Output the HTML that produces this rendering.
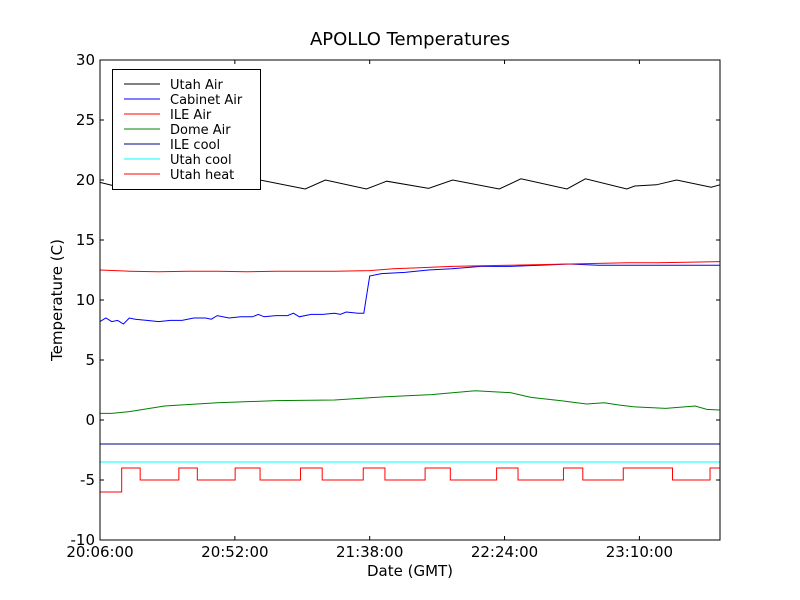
<!DOCTYPE html>
<html><head><meta charset="utf-8"><style>
body{margin:0;background:#fff;}
svg{display:block;font-family:"DejaVu Sans","Liberation Sans",sans-serif;}
</style></head><body>
<svg id="chart" width="800" height="600">
<rect width="800" height="600" fill="#fff"/>
<text x="410" y="45" font-size="18" text-anchor="middle">APOLLO Temperatures</text>
<text x="410" y="576" font-size="15" text-anchor="middle">Date (GMT)</text>
<text transform="translate(62,300) rotate(-90)" font-size="15" text-anchor="middle">Temperature (C)</text>
<g id="series"></g>
<g id="axes"></g>
<g id="legend"></g>
</svg>
<script>
const xTicks=[0,46,92,138,184];
const xTickLabels=["20:06:00","20:52:00","21:38:00","22:24:00","23:10:00"];
const yTicks=[-10,-5,0,5,10,15,20,25,30];
const utahAirT=[0,5,30,54.6,70.0,76.9,90.9,97.8,112.1,120.3,136.2,143.6,159.3,165.6,179.7,182.4,189.8,196.7,208.5,211.5];
const utahAirV=[19.8,19.5,19.3,20.0,19.25,20.0,19.25,19.9,19.3,20.0,19.25,20.1,19.25,20.1,19.25,19.5,19.6,20.0,19.4,19.6];
const cabT=[0,2,4,6,8,10,12,16,20,24,28,32,36,38,40,44,48,52,54,56,60,64,66,68,72,76,80,82,84,88,90,92,96,104,112,120,130,140,150,160,170,180,190,200,211.3];
const cabV=[8.2,8.5,8.2,8.3,8.0,8.5,8.4,8.3,8.2,8.3,8.3,8.5,8.5,8.4,8.7,8.5,8.6,8.6,8.8,8.6,8.7,8.7,8.9,8.6,8.8,8.8,8.9,8.8,9.0,8.9,8.9,12.0,12.2,12.3,12.5,12.6,12.8,12.8,12.9,13.0,12.9,12.9,12.9,12.9,12.9];
const ileAirT=[0,10,20,30,40,50,60,70,80,92,100,110,120,130,140,150,160,170,180,190,200,211.3];
const ileAirV=[12.5,12.4,12.35,12.4,12.4,12.35,12.4,12.4,12.4,12.45,12.6,12.7,12.8,12.85,12.9,12.95,13.0,13.05,13.1,13.1,13.15,13.2];
const domeT=[0,4,10,22,40,60,80,94,113,128,140,147,157,166,172,177,182,193,203,207,211.3];
const domeV=[0.55,0.55,0.7,1.17,1.44,1.61,1.67,1.89,2.11,2.44,2.28,1.89,1.61,1.33,1.44,1.25,1.1,0.97,1.17,0.89,0.83];
const ileCoolV=-2.0;
const utahCoolV=-3.5;
const heatT=[0,7.4,13.7,26.9,33.2,46.1,54.6,68.4,75.8,89.8,97.2,110.9,119.5,135.3,142.6,158.1,164.7,178.5,195.3,208.1,211.3];
const heatV=[-6,-4,-5,-4,-5,-4,-5,-4,-5,-4,-5,-4,-5,-4,-5,-4,-5,-4,-5,-4,-4];

const X0=100,X1=720,Y0=60,Y1=540,TMAX=211.5;
const sx=t=>X0+t/TMAX*(X1-X0);
const sy=v=>Y1-(v+10)/40*(Y1-Y0);
const NS="http://www.w3.org/2000/svg";
function mk(tag,attrs,parent){const e=document.createElementNS(NS,tag);for(const k in attrs)e.setAttribute(k,attrs[k]);parent.appendChild(e);return e;}
const S=document.getElementById('series');
function line(ts,vs,color,name,step){
  let d="";
  ts.forEach((t,i)=>{
    if(i===0){d+="M"+sx(t)+","+sy(vs[i]);}
    else if(step){d+="L"+sx(t)+","+sy(vs[i-1])+"L"+sx(t)+","+sy(vs[i]);}
    else d+="L"+sx(t)+","+sy(vs[i]);
  });
  const p=mk('path',{d:d,fill:"none",stroke:color,"stroke-width":1},S);
  
  
}
line(utahAirT,utahAirV,"#000","utah-air-line");
line(cabT,cabV,"#0000ff","cabinet-air-line");
line(ileAirT,ileAirV,"#ff0000","ile-air-line");
line(domeT,domeV,"#008000","dome-air-line");
line([0,TMAX],[ileCoolV,ileCoolV],"#000080","ile-cool-line");
line([0,TMAX],[utahCoolV,utahCoolV],"#00ffff","utah-cool-line");
line(heatT,heatV,"#ff0000","utah-heat-line",true);

const A=document.getElementById('axes');
mk('rect',{x:X0,y:Y0,width:X1-X0,height:Y1-Y0,fill:"none",stroke:"#000","stroke-width":1},A);
yTicks.forEach(v=>{
  const y=sy(v);
  mk('line',{x1:X0,x2:X0+4,y1:y,y2:y,stroke:"#000"},A);
  mk('line',{x1:X1-4,x2:X1,y1:y,y2:y,stroke:"#000"},A);
  const t=mk('text',{x:X0-5,y:y+5,"font-size":15,"text-anchor":"end"},A);
  t.textContent=String(v);
  
  
});
xTicks.forEach((m,i)=>{
  const x=sx(m);
  mk('line',{x1:x,x2:x,y1:Y1,y2:Y1-4,stroke:"#000"},A);
  mk('line',{x1:x,x2:x,y1:Y0,y2:Y0+4,stroke:"#000"},A);
  const t=mk('text',{x:x,y:Y1+17,"font-size":15,"text-anchor":"middle"},A);
  t.textContent=xTickLabels[i];
  
  
});

const L=document.getElementById('legend');
const legNames=["Utah Air","Cabinet Air","ILE Air","Dome Air","ILE cool","Utah cool","Utah heat"];
const legColors=["#000","#0000ff","#ff0000","#008000","#000080","#00ffff","#ff0000"];
mk('rect',{x:112.5,y:69.5,width:148,height:120,fill:"#fff",stroke:"#000","stroke-width":1},L);
legNames.forEach((n,i)=>{
  const y=84+i*15;
  mk('line',{x1:124,x2:160,y1:y,y2:y,stroke:legColors[i]},L);
  const t=mk('text',{x:170,y:y+5,"font-size":13},L);
  t.textContent=n;
  
  
});
</script>
</body></html>
